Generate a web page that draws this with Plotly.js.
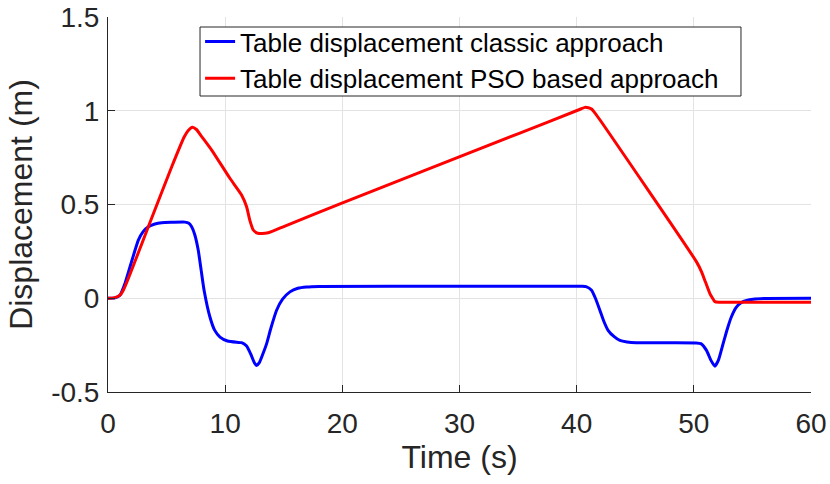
<!DOCTYPE html>
<html>
<head>
<meta charset="utf-8">
<script src="https://cdn.plot.ly/plotly-3.0.1.min.js"></script>
<style>html,body{margin:0;padding:0;background:#fff;}#chart{width:830px;height:484px;}</style>
</head>
<body>
<div id="chart"></div>
<script>
const seriesNames = ["Table displacement classic approach", "Table displacement PSO based approach"];

const classicTime = [0, 0.6, 1.02, 1.4, 1.88, 2.59, 3.0, 3.44, 4.0, 4.58, 5.5, 6.57, 6.9, 7.14, 7.4, 7.7, 7.95, 8.2, 8.7, 9.1, 9.56, 10.2, 11.0, 11.4, 11.83, 12.2, 12.5, 12.69, 12.9, 13.2, 13.54, 13.9, 14.39, 14.9, 15.53, 16.2, 16.95, 18, 30, 40.5, 40.8, 41.27, 41.6, 41.98, 42.3, 42.68, 43.2, 43.69, 44.3, 45.1, 50.2, 50.6, 51.08, 51.45, 51.79, 52.1, 52.5, 52.85, 53.2, 53.6, 54.06, 54.5, 55.06, 56, 60];
const classicDisp = [0, 0.002, 0.016, 0.07, 0.168, 0.31, 0.355, 0.381, 0.396, 0.403, 0.405, 0.406, 0.4, 0.381, 0.34, 0.257, 0.15, 0.043, -0.1, -0.17, -0.207, -0.228, -0.235, -0.237, -0.255, -0.3, -0.345, -0.358, -0.345, -0.3, -0.242, -0.16, -0.064, -0.005, 0.034, 0.053, 0.06, 0.063, 0.064, 0.064, 0.062, 0.043, 0.0, -0.064, -0.12, -0.171, -0.205, -0.225, -0.233, -0.237, -0.238, -0.242, -0.278, -0.33, -0.362, -0.33, -0.242, -0.165, -0.1, -0.05, -0.023, -0.012, -0.005, -0.001, 0];

const psoTime = [0, 0.5, 1.0, 1.31, 1.7, 2.2, 3.44, 5.43, 6.5, 6.85, 7.2, 7.55, 8.0, 8.85, 10.4, 11.4, 11.83, 12.1, 12.4, 12.69, 12.9, 13.68, 15.1, 19.8, 35.15, 40.3, 40.7, 41.0, 41.27, 41.6, 41.98, 50.23, 50.66, 51.0, 51.37, 51.6, 51.79, 52.2, 60];
const psoDisp = [0, 0.002, 0.015, 0.043, 0.1, 0.18, 0.381, 0.70, 0.86, 0.895, 0.912, 0.9, 0.862, 0.79, 0.64, 0.551, 0.488, 0.417, 0.364, 0.349, 0.346, 0.349, 0.385, 0.503, 0.881, 1.008, 1.018, 1.016, 1.009, 0.985, 0.952, 0.194, 0.141, 0.085, 0.025, 0.0, -0.018, -0.021, -0.021];

const xTicks = [0, 10, 20, 30, 40, 50, 60];
const yTicks = [-0.5, 0, 0.5, 1, 1.5];
const yTickText = ["-0.5", "0", "0.5", "1", "1.5"];

const FONT = "'Liberation Sans', Arial, sans-serif";
const AX = "#262626";

const traces = [
  {x: classicTime, y: classicDisp, name: seriesNames[0], type: "scatter", mode: "lines",
   line: {color: "#0000ff", width: 3, shape: "spline", smoothing: 0.5}},
  {x: psoTime, y: psoDisp, name: seriesNames[1], type: "scatter", mode: "lines",
   line: {color: "#ff0000", width: 3, shape: "spline", smoothing: 0.5}}
];

const layout = {
  width: 830, height: 484,
  margin: {l: 108, r: 19, t: 17, b: 92, pad: 0},
  paper_bgcolor: "#fff", plot_bgcolor: "#fff",
  font: {family: FONT, color: AX, size: 28},
  showlegend: true,
  legend: {x: 0.131, y: 0.997, xanchor: "left", yanchor: "top",
    bgcolor: "rgba(0,0,0,0)", borderwidth: 0,
    font: {family: FONT, size: 26, color: "#000"}, tracegroupgap: 0, itemwidth: 30},
  shapes: [{type: "rect", xref: "paper", yref: "paper", x0: 0.1309, x1: 0.9004, y0: 0.7893, y1: 0.9733,
    layer: "above", fillcolor: "#ffffff", line: {color: AX, width: 1}}],
  xaxis: {range: [0, 60], tickvals: xTicks, ticktext: xTicks.map(String),
    ticks: "inside", ticklen: 7, tickcolor: AX, tickwidth: 1,
    showline: true, linecolor: AX, linewidth: 1, mirror: false,
    showgrid: true, gridcolor: "#e3e3e3", gridwidth: 1, zeroline: false,
    tickfont: {family: FONT, size: 28, color: AX}, ticklabelstandoff: 6,
    title: {text: "Time (s)", font: {family: FONT, size: 32, color: AX}, standoff: 6}},
  yaxis: {range: [-0.5, 1.5], tickvals: yTicks, ticktext: yTickText,
    ticks: "inside", ticklen: 7, tickcolor: AX, tickwidth: 1,
    showline: true, linecolor: AX, linewidth: 1, mirror: false,
    showgrid: true, gridcolor: "#e3e3e3", gridwidth: 1, zeroline: false,
    tickfont: {family: FONT, size: 28, color: AX}, ticklabelstandoff: 2,
    title: {text: "Displacement (m)", font: {family: FONT, size: 32, color: AX}, standoff: 8}}
};

Plotly.newPlot("chart", traces, layout, {displayModeBar: false, staticPlot: true});
</script>
</body>
</html>
